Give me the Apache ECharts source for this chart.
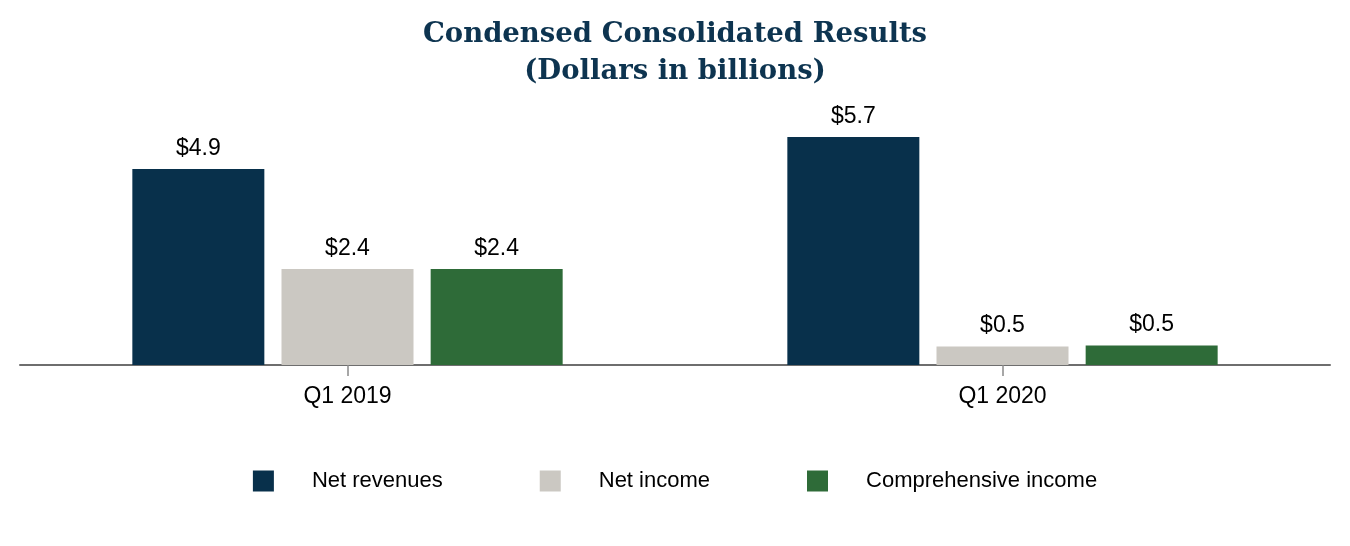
<!DOCTYPE html>
<html>
<head>
<meta charset="utf-8">
<script src="https://cdn.jsdelivr.net/npm/echarts@6/dist/echarts.min.js"></script>
<style>html,body{margin:0;padding:0;background:#fff;}#c{width:1350px;height:546px;}</style>
</head>
<body>
<div id="c"></div>
<script>
const categories = ['Q1 2019', 'Q1 2020'];
const seriesNames = ['Net revenues', 'Net income', 'Comprehensive income'];
const netRevenues = [4.9, 5.7];
const netIncome = [2.4, 0.46];
const comprehensiveIncome = [2.4, 0.49];
const colors = ['#08304b', '#cbc8c2', '#2e6b38'];

const chart = echarts.init(document.getElementById('c'));
const labelCfg = {
  show: true, position: 'top', distance: 9,
  color: '#000', fontSize: 23, fontFamily: 'Liberation Sans, Arial, sans-serif',
  formatter: p => '$' + p.value.toFixed(1)
};
const data = [netRevenues, netIncome, comprehensiveIncome];
chart.setOption({
  animation: false,
  title: {
    text: 'Condensed Consolidated Results\n(Dollars in billions)',
    left: 'center', top: 11,
    textStyle: { fontFamily: 'DejaVu Serif', fontWeight: 'bold', fontSize: 27.5, color: '#0d3450', lineHeight: 37 }
  },
  legend: {
    bottom: 49, left: 'center', itemWidth: 21, itemHeight: 21, itemGap: 97,
    icon: 'rect',
    textStyle: { fontSize: 22, color: '#000', fontFamily: 'Liberation Sans, Arial, sans-serif', padding: [0, 0, 0, 33] },
    data: seriesNames
  },
  grid: { left: 20, right: 20, top: 125, bottom: 181, containLabel: false },
  xAxis: {
    type: 'category', data: categories,
    axisLine: { lineStyle: { color: '#6e6e6e', width: 2 } },
    axisTick: { show: true, alignWithLabel: true, length: 11, lineStyle: { color: '#8a8a8a', width: 1.5 } },
    axisLabel: { fontSize: 23, color: '#000', margin: 20, fontFamily: 'Liberation Sans, Arial, sans-serif' }
  },
  yAxis: { type: 'value', min: 0, max: 6, show: false, splitLine: { show: false } },
  series: seriesNames.map((n, i) => ({
    name: n, type: 'bar', data: data[i], barWidth: 132, barGap: '13%',
    itemStyle: { color: colors[i] }, label: labelCfg
  }))
});
</script>
</body>
</html>
